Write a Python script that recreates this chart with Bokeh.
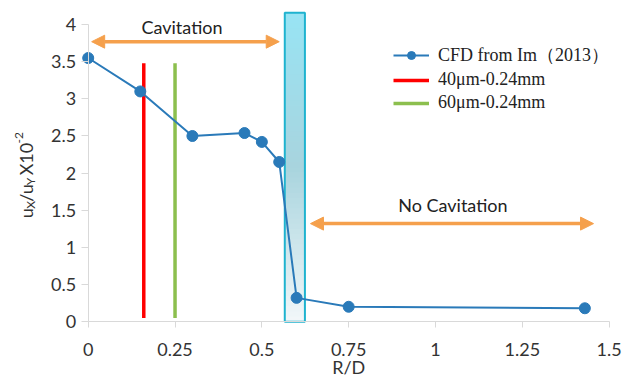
import numpy as np
from bokeh.plotting import figure
from bokeh.models import (Range1d, FixedTicker, Label, Legend, LegendItem,
                          Arrow, NormalHead)
from bokeh.embed import file_html
from bokeh.resources import INLINE

# ---------------- data ----------------
rd = [0, 0.15, 0.30, 0.45, 0.50, 0.55, 0.60, 0.75, 1.43]
ratio = [3.55, 3.10, 2.50, 2.54, 2.42, 2.15, 0.32, 0.20, 0.18]

red_x = [0.16, 0.16]
green_x = [0.25, 0.25]
marker_y = [0.05, 3.48]

zone_x = [0.566, 0.624]
zone_y = [0.0, 4.16]

cav_x = [0.01, 0.55]
cav_y = 3.77
nocav_x = [0.64, 1.455]
nocav_y = 1.32

x_ticks = [0, 0.25, 0.5, 0.75, 1, 1.25, 1.5]
x_tick_labels = ["0", "0.25", "0.5", "0.75", "1", "1.25", "1.5"]
y_ticks = [0, 0.5, 1, 1.5, 2, 2.5, 3, 3.5, 4]
y_tick_labels = ["0", "0.5", "1", "1.5", "2", "2.5", "3", "3.5", "4"]

series_names = ["CFD from Im\uff082013\uff09", "40\u03bcm-0.24mm", "60\u03bcm-0.24mm"]
x_title = "R/D"

# ---------------- figure ----------------
FONT = "Lato"
AXIS_GRAY = "#d9d9d9"
TXT = "#333333"
p = figure(width=623, height=379, output_backend="svg", toolbar_location=None,
           x_range=Range1d(-0.2295, 1.5413), y_range=Range1d(-0.739, 4.19),
           min_border_left=8, min_border_right=0, min_border_top=10,
           min_border_bottom=3)
p.outline_line_color = None
p.xgrid.visible = False
p.ygrid.visible = False
p.background_fill_color = "white"

for ax in (p.xaxis[0], p.yaxis[0]):
    ax.axis_line_color = AXIS_GRAY
    ax.major_tick_line_color = AXIS_GRAY
    ax.minor_tick_line_color = None
    ax.major_tick_out = 6
    ax.major_tick_in = 0
    ax.major_label_text_font = FONT
    ax.major_label_text_font_size = "18px"
    ax.major_label_text_color = TXT

xa = p.xaxis[0]
xa.ticker = FixedTicker(ticks=x_ticks)
xa.major_label_overrides = {t: l for t, l in zip(x_ticks, x_tick_labels)}
xa.bounds = (x_ticks[0], x_ticks[-1])
xa.fixed_location = y_ticks[0]     # x axis sits at y = 0
xa.major_label_standoff = 15

ya = p.yaxis[0]
ya.ticker = FixedTicker(ticks=y_ticks)
ya.major_label_overrides = {t: l for t, l in zip(y_ticks, y_tick_labels)}
ya.bounds = (y_ticks[0], y_ticks[-1])
ya.fixed_location = x_ticks[0]     # y axis sits at R/D = 0
ya.major_tick_out = 7
ya.major_label_standoff = 5

# gradient-filled cavitation boundary zone
n = 60
edges = np.linspace(zone_y[0], zone_y[1], n + 1)
overlap = (zone_y[1] - zone_y[0]) / n * 0.6
stops = [(0.0, (242, 247, 249)), (0.5, (168, 212, 222)), (1.0, (152, 228, 244))]
def col(t):
    for (t0, c0), (t1, c1) in zip(stops[:-1], stops[1:]):
        if t <= t1:
            f = (t - t0) / (t1 - t0)
            return "#%02x%02x%02x" % tuple(int(round(a + (b - a) * f)) for a, b in zip(c0, c1))
    return "#%02x%02x%02x" % stops[-1][1]
colors = [col((i + 0.5) / n) for i in range(n)]
tops = np.minimum(edges[1:] + overlap, zone_y[1])
p.quad(left=zone_x[0], right=zone_x[1], bottom=edges[:-1], top=tops,
       fill_color=colors, line_color=None)
p.quad(left=zone_x[0], right=zone_x[1], bottom=zone_y[0], top=zone_y[1],
       fill_color=None, line_color="#1fb3cf", line_width=2)

# marker lines
r_red = p.line(red_x, marker_y, line_color="#ff0000", line_width=3.5)
r_green = p.line(green_x, marker_y, line_color="#8cbf4e", line_width=3.5)

# CFD series
r_line = p.line(rd, ratio, line_color="#2a7ab9", line_width=2)
r_pts = p.scatter(rd, ratio, size=11, fill_color="#2a7ab9", line_color="#2a7ab9")

# arrows
ORANGE = "#f5a04c"
for xs, yy in ((cav_x, cav_y), (nocav_x, nocav_y)):
    p.add_layout(Arrow(x_start=xs[0], x_end=xs[1], y_start=yy, y_end=yy,
                       line_color=ORANGE, line_width=3.5,
                       start=NormalHead(size=13, fill_color=ORANGE, line_color=ORANGE),
                       end=NormalHead(size=13, fill_color=ORANGE, line_color=ORANGE)))

p.add_layout(Label(x=0.27, y=3.97, text="Cavitation", text_font=FONT,
                   text_font_size="18px", text_color="#222222",
                   text_align="center", text_baseline="middle"))
p.add_layout(Label(x=1.05, y=1.57, text="No Cavitation", text_font=FONT,
                   text_font_size="18px", text_color="#222222",
                   text_align="center", text_baseline="middle"))

# x axis title, centred under the axis
p.add_layout(Label(x=(x_ticks[0] + x_ticks[-1]) / 2, y=-0.615, text=x_title,
                   text_font=FONT, text_font_size="18px", text_color=TXT,
                   text_align="center", text_baseline="middle"))

# composed y-axis label u_X/u_Y X10^-2
pieces = [
    ("u", -0.179, 1.391, "18px"),
    ("X", -0.165, 1.519, "12px"),
    ("/u", -0.179, 1.613, "18px"),
    ("Y", -0.165, 1.836, "12px"),
    ("X10", -0.179, 1.970, "18px"),
    ("-2", -0.200, 2.398, "12px"),
]
for t, xx, yy, fs in pieces:
    p.add_layout(Label(x=xx, y=yy, text=t, angle=np.pi / 2, text_font=FONT,
                       text_font_size=fs, text_color=TXT,
                       text_align="left", text_baseline="alphabetic"))

legend = Legend(items=[LegendItem(label=series_names[0], renderers=[r_line, r_pts]),
                       LegendItem(label=series_names[1], renderers=[r_red]),
                       LegendItem(label=series_names[2], renderers=[r_green])],
                location=(385, 263), label_text_font="Liberation Serif",
                label_text_font_size="18px", label_text_color="#222222",
                glyph_width=36, glyph_height=20, label_height=20,
                label_standoff=9, spacing=2, padding=0, margin=0,
                border_line_alpha=0, background_fill_alpha=0)
p.add_layout(legend)

open("out.html", "w").write(file_html(p, INLINE))
